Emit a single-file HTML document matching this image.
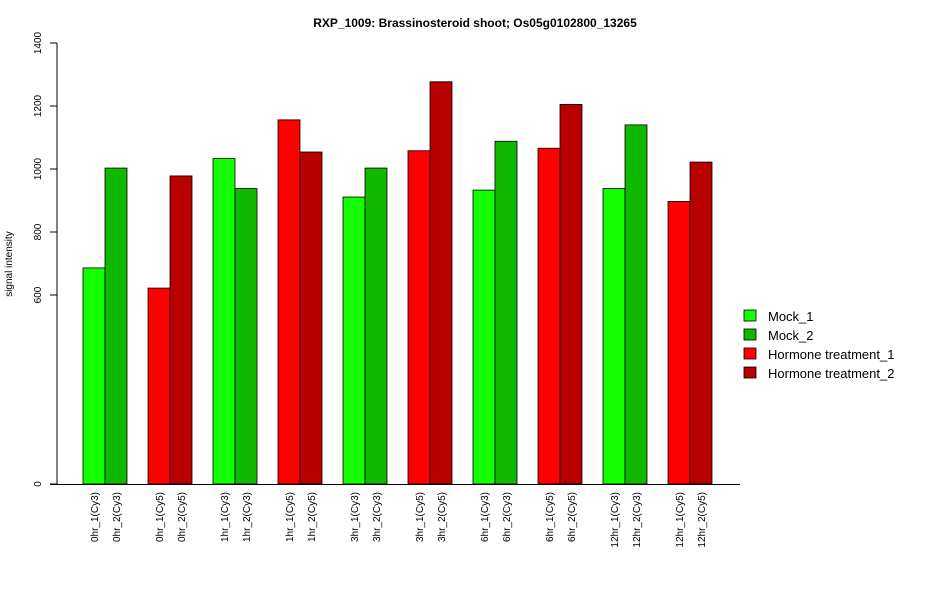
<!DOCTYPE html>
<html><head><meta charset="utf-8"><style>
body{margin:0;background:#fff}
svg text{font-family:"Liberation Sans",Arial,sans-serif}
</style></head><body>
<svg id="chart" width="950" height="600" xmlns="http://www.w3.org/2000/svg">
<text x="475" y="27" text-anchor="middle" font-size="12" font-weight="bold">RXP_1009: Brassinosteroid shoot; Os05g0102800_13265</text>
<text transform="translate(12,264) rotate(-90)" text-anchor="middle" font-size="10">signal intensity</text>
<g id="axes"></g><g id="bars"></g><g id="xlabels"></g>
<g font-size="13">
<rect x="744" y="310" width="12" height="11" fill="#14ff00" stroke="#000" stroke-width="0.8"/><text x="768" y="321">Mock_1</text>
<rect x="744" y="329" width="12" height="11" fill="#10b800" stroke="#000" stroke-width="0.8"/><text x="768" y="340">Mock_2</text>
<rect x="744" y="348" width="12" height="11" fill="#ff0000" stroke="#000" stroke-width="0.8"/><text x="768" y="359">Hormone treatment_1</text>
<rect x="744" y="367" width="12" height="11" fill="#b80000" stroke="#000" stroke-width="0.8"/><text x="768" y="378">Hormone treatment_2</text>
</g>
</svg>
<script>
const categories=["0hr_1(Cy3)","0hr_2(Cy3)","0hr_1(Cy5)","0hr_2(Cy5)","1hr_1(Cy3)","1hr_2(Cy3)","1hr_1(Cy5)","1hr_2(Cy5)","3hr_1(Cy3)","3hr_2(Cy3)","3hr_1(Cy5)","3hr_2(Cy5)","6hr_1(Cy3)","6hr_2(Cy3)","6hr_1(Cy5)","6hr_2(Cy5)","12hr_1(Cy3)","12hr_2(Cy3)","12hr_1(Cy5)","12hr_2(Cy5)"];
const values=[686,1003,622,978,1033,938,1156,1054,911,1003,1058,1277,933,1088,1066,1205,938,1140,897,1022];
const colors=["#14ff00","#10b800","#ff0000","#b80000"];
const yTicks=[0,600,800,1000,1200,1400];
const NS="http://www.w3.org/2000/svg";
const y=v=>484-v*0.315;
const x=i=>83+Math.floor(i/2)*65+(i%2)*22;
function mk(t,a,p){const e=document.createElementNS(NS,t);for(const k in a)e.setAttribute(k,a[k]);p.appendChild(e);return e;}
const ax=document.getElementById('axes'),bg=document.getElementById('bars'),xl=document.getElementById('xlabels');
const yl=mk('line',{x1:57,x2:57,y1:y(1400),y2:y(0),stroke:'#000'},ax);


const xline=mk('line',{x1:50,x2:740,y1:484.5,y2:484.5,stroke:'#000'},ax);


yTicks.forEach(v=>{
 mk('line',{x1:50,x2:57,y1:y(v),y2:y(v),stroke:'#000'},ax);
 const t=mk('text',{transform:`translate(41,${y(v)}) rotate(-90)`,'text-anchor':'middle','font-size':10},ax);
 t.textContent=v;
 
 
});
values.forEach((v,i)=>{
 const r=mk('rect',{x:x(i),y:y(v),width:22,height:y(0)-y(v),fill:colors[(Math.floor(i/2)%2)*2+(i%2)],stroke:'#000','stroke-width':0.8},bg);
 
 
 const t=mk('text',{transform:`translate(${x(i)+15},492) rotate(-90)`,'text-anchor':'end','font-size':10},xl);
 t.textContent=categories[i];
 
 
});
</script>
</body></html>
